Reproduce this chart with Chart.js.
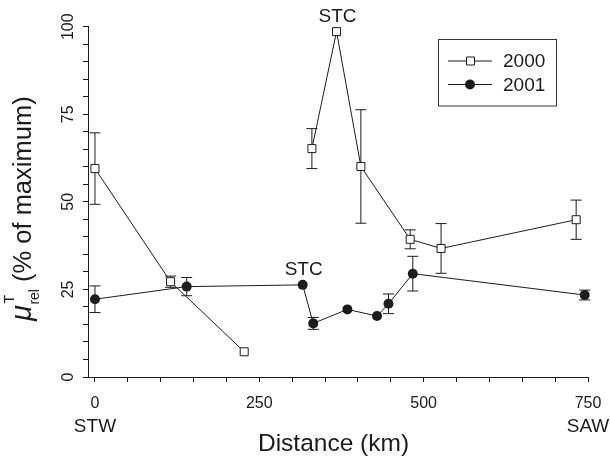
<!DOCTYPE html>
<html><head><meta charset="utf-8">
<script src="https://cdn.jsdelivr.net/npm/chart.js@4.4.0/dist/chart.umd.min.js"></script>
<style>html,body{margin:0;padding:0;background:#fff;}#wrap{width:610px;height:456px;}</style>
</head><body>
<div id="wrap"><canvas id="c" width="610" height="456"></canvas></div>
<script>
// ---- data ----
const seriesNames = ['2000', '2001'];
const distance2000 = [0, 115, 227, 330, 367.5, 404.5, 479.5, 526.5, 732];
const value2000    = [59.5, 27.2, 7.2, 65.2, 98.6, 60.1, 39.3, 36.7, 44.9];
const err2000      = [10.2, 1.6, 0, 5.7, 0, 16.2, 2.7, 7.1, 5.6];
const lineBreaks2000 = [2];   // no connecting line after this point index
const distance2001 = [0, 139.5, 316, 332, 384, 429, 446.5, 483.5, 745];
const value2001    = [22.2, 25.8, 26.3, 15.3, 19.3, 17.4, 20.9, 29.5, 23.4];
const err2001      = [3.8, 2.6, 0, 1.7, 0, 0, 2.8, 4.95, 1.4];
const lineBreaks2001 = [];
const xTickValues = [0,50,100,150,200,250,300,350,400,450,500,550,600,650,700,750];
const xTickLabels = [0, 250, 500, 750];
const xEndLabels = [{x: 0, text: 'STW'}, {x: 750, text: 'SAW'}];
const yTickValues = [0,5,10,15,20,25,30,35,40,45,50,55,60,65,70,75,80,85,90,95,100];
const yTickLabels = [0, 25, 50, 75, 100];
const annotations = [{text: 'STC', x: 367.5, y: 98.6}, {text: 'STC', x: 316, y: 26.3}];
const xTitle = 'Distance (km)';
const yTitle = {symbol: '\u03BC', sup: 'T', sub: 'rel', rest: ' (% of maximum)'};

// ---- styling ----
const ink = '#1c1c1c';
const FAM = "'Liberation Sans', Arial, sans-serif";
const f = (s, st) => (st ? st + ' ' : '') + s + 'px ' + FAM;

const errorBars = {
  id: 'errorBars',
  beforeDatasetsDraw(chart) {
    const {ctx, scales: {x, y}} = chart;
    ctx.save(); ctx.strokeStyle = ink; ctx.lineWidth = 1;
    chart.data.datasets.forEach(ds => {
      ds.data.forEach((p, i) => {
        const e = ds.err[i]; if (!e) return;
        const px = x.getPixelForValue(p.x);
        const y1 = y.getPixelForValue(p.y + e), y2 = y.getPixelForValue(p.y - e);
        ctx.beginPath();
        ctx.moveTo(px, y1); ctx.lineTo(px, y2);
        ctx.moveTo(px - 5.5, y1); ctx.lineTo(px + 5.5, y1);
        ctx.moveTo(px - 5.5, y2); ctx.lineTo(px + 5.5, y2);
        ctx.stroke();
      });
    });
    ctx.restore();
  }
};

const extras = {
  id: 'extras',
  afterDraw(chart) {
    const {ctx, scales: {x, y}, chartArea: ca} = chart;
    ctx.save();
    ctx.fillStyle = ink;
    // annotations
    ctx.font = f(19); ctx.textAlign = 'center'; ctx.textBaseline = 'alphabetic';
    annotations.forEach(a => {
      ctx.fillText(a.text, x.getPixelForValue(a.x) + 1, y.getPixelForValue(a.y) - 10);
    });
    // end labels under the x axis
    ctx.font = f(19);
    xEndLabels.forEach(l => ctx.fillText(l.text, x.getPixelForValue(l.x), 432));
    // x title
    ctx.font = f(24.5);
    ctx.fillText(xTitle, (ca.left + ca.right) / 2 - 4.5, 451);
    // y title (rotated, reads bottom to top)
    ctx.save();
    ctx.translate(31, 321);
    ctx.rotate(-Math.PI / 2);
    ctx.textAlign = 'left';
    ctx.font = f(29, 'italic'); const wMu = ctx.measureText(yTitle.symbol).width;
    ctx.font = f(14); const wSup = ctx.measureText(yTitle.sup).width, wSub = ctx.measureText(yTitle.sub).width;
    let sx = 0;
    ctx.font = f(29, 'italic'); ctx.fillText(yTitle.symbol, sx, 0);
    sx += wMu + 0.5;
    ctx.font = f(14); ctx.fillText(yTitle.sup, sx + 1, -17); ctx.fillText(yTitle.sub, sx, 8);
    sx += Math.max(wSup, wSub);
    ctx.font = f(25.5); ctx.fillText(yTitle.rest, sx, 0);
    ctx.restore();
    // legend
    ctx.strokeStyle = '#333'; ctx.lineWidth = 1;
    ctx.strokeRect(438.5, 39.5, 118, 66.5);
    const rows = [61, 84.5];
    chart.data.datasets.forEach((ds, i) => {
      const ry = rows[i];
      ctx.strokeStyle = ink;
      ctx.beginPath(); ctx.moveTo(448, ry); ctx.lineTo(492, ry); ctx.stroke();
      ctx.beginPath();
      if (ds.pointStyle === 'rect') {
        ctx.fillStyle = '#fff'; ctx.rect(466.5, ry - 4, 8, 8); ctx.fill(); ctx.stroke();
      } else {
        ctx.fillStyle = ink; ctx.arc(470, ry, 5, 0, Math.PI * 2); ctx.fill();
      }
      ctx.fillStyle = ink; ctx.font = f(19); ctx.textAlign = 'left'; ctx.textBaseline = 'middle';
      ctx.fillText(ds.label, 503, ry + 1);
    });
    ctx.restore();
  }
};

const mk = (xs, ys) => xs.map((v, i) => ({x: v, y: ys[i]}));
const segColor = breaks => ({borderColor: c => breaks.includes(c.p0DataIndex) ? 'rgba(0,0,0,0)' : ink});
const axisCommon = {
  grid: {drawOnChartArea: false, drawTicks: true, tickLength: 5, color: ink, lineWidth: 1},
  border: {display: true, color: ink, width: 1}
};
const noPad = s => { s.paddingLeft = 0; s.paddingRight = 0; s.paddingTop = 0; s.paddingBottom = 0; };

new Chart(document.getElementById('c'), {
  type: 'scatter',
  data: {
    datasets: [
      {label: seriesNames[0], data: mk(distance2000, value2000), err: err2000, showLine: true,
       segment: segColor(lineBreaks2000),
       borderColor: ink, borderWidth: 1, pointStyle: 'rect', pointRadius: 5.66,
       pointBackgroundColor: '#fff', pointBorderColor: ink, pointBorderWidth: 1, clip: false},
      {label: seriesNames[1], data: mk(distance2001, value2001), err: err2001, showLine: true,
       segment: segColor(lineBreaks2001),
       borderColor: ink, borderWidth: 1, pointStyle: 'circle', pointRadius: 5,
       pointBackgroundColor: ink, pointBorderColor: ink, pointBorderWidth: 0, clip: false}
    ]
  },
  options: {
    responsive: false, animation: false, devicePixelRatio: 1,
    layout: {padding: {left: 0, right: 22, top: 26.7, bottom: 0}},
    plugins: {legend: {display: false}, tooltip: {enabled: false}},
    scales: {
      x: Object.assign({}, axisCommon, {
        type: 'linear', min: -10.6, max: 750,
        afterBuildTicks: s => { s.ticks = xTickValues.map(v => ({value: v})); },
        afterFit: s => { s.height = 79; noPad(s); },
        ticks: {autoSkip: false, minRotation: 0, maxRotation: 0, padding: 12, color: ink,
                font: {family: FAM, size: 16},
                callback: v => xTickLabels.includes(v) ? String(v) : ''}
      }),
      y: Object.assign({}, axisCommon, {
        type: 'linear', min: 0, max: 100,
        afterBuildTicks: s => { s.ticks = yTickValues.map(v => ({value: v})); },
        afterFit: s => { s.width = 88; noPad(s); },
        ticks: {autoSkip: false, minRotation: 90, maxRotation: 90, crossAlign: 'center', padding: 1, color: ink,
                font: {family: FAM, size: 16},
                callback: v => yTickLabels.includes(v) ? String(v) : ''}
      })
    }
  },
  plugins: [errorBars, extras]
});
</script>
</body></html>
